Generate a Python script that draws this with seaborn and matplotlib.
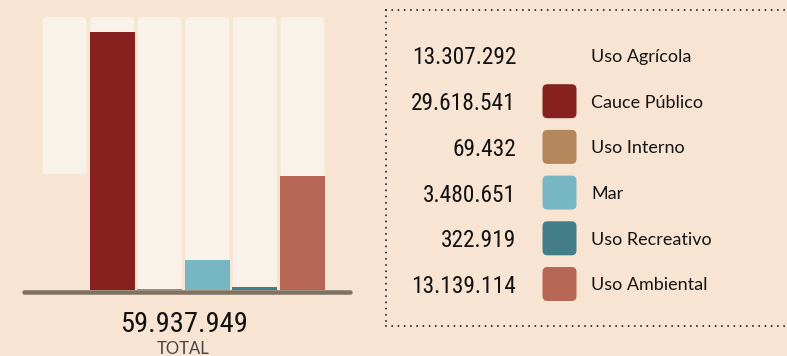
import matplotlib
matplotlib.use("Agg")
import matplotlib.pyplot as plt
from matplotlib.patches import FancyBboxPatch
from matplotlib.lines import Line2D
import seaborn as sns
import pandas as pd

# Water destination volumes
categories = ["Uso Agrícola", "Cauce Público", "Uso Interno", "Mar", "Uso Recreativo", "Uso Ambiental"]
values = [13307292, 29618541, 69432, 3480651, 322919, 13139114]
value_labels = ["13.307.292", "29.618.541", "69.432", "3.480.651", "322.919", "13.139.114"]
colors = ["#F8E4D3", "#86211F", "#B3865C", "#76B7C3", "#437D88", "#B86656"]
total_label = "59.937.949"
total_caption = "TOTAL"

BG = "#F8E4D3"
TRACK = "#F8F2E8"
BASE = "#7F7262"
W, H = 787, 356

sns.set_theme(style="white")
plt.rcParams["font.family"] = ["Lato", "DejaVu Sans"]
NUM_FONT = ["Roboto Condensed", "Roboto", "DejaVu Sans"]

fig = plt.figure(figsize=(W / 100, H / 100), dpi=100, facecolor=BG)


def fx(px):
    return px / W


def fy(py):
    return 1 - py / H


# Bar panel: axes spans the baseline, 0 sits at y=290 px
ax_l, ax_r, ax_t, ax_b = 22, 352, 17, 296
ax = fig.add_axes([fx(ax_l), fy(ax_b), fx(ax_r) - fx(ax_l), (ax_b - ax_t) / H])
ax.set_facecolor(BG)
ax.patch.set_alpha(0)

vmax = max(values)
bar_px = 258.0                     # pixel height of the tallest bar
k = bar_px / vmax                  # px per unit
track_top = (290 - ax_t) / k
y_bottom = -(ax_b - 290) / k

unit = (302.5 - 64.5) / 5          # px per category step
x_left = -(64.5 - ax_l) / unit
x_right = 5 + (ax_r - 302.5) / unit

df = pd.DataFrame({"cat": categories, "val": values,
                   "track": [track_top] * len(categories)})

# background tracks
sns.barplot(data=df, x="cat", y="track", color=TRACK, width=44 / unit,
            saturation=1, ax=ax, zorder=1)
n_track = len(ax.patches)
radius = 4 / unit
aspect = unit / k
for p in list(ax.patches[:n_track]):
    x0, y0 = p.get_x(), p.get_y()
    w, h = p.get_width(), p.get_height()
    p.remove()
    ax.add_patch(FancyBboxPatch((x0, y0), w, h,
                                boxstyle=f"round,pad=0,rounding_size={radius}",
                                mutation_aspect=aspect, fc=TRACK, ec="none",
                                lw=0, zorder=1))

# value bars
sns.barplot(data=df, x="cat", y="val", hue="cat", palette=colors,
            width=45 / unit, saturation=1, legend=False, ax=ax, zorder=2)
for p in ax.patches:
    if isinstance(p, FancyBboxPatch):
        continue
    p.set_edgecolor("none")
    p.set_linewidth(0)
    p.set_zorder(2)

ax.set_xlim(x_left, x_right)
ax.set_ylim(y_bottom, track_top)
ax.axis("off")

# baseline
cap = 2.25 / unit
ax.add_line(Line2D([x_left + cap, x_right - cap], [-2.4 / k, -2.4 / k],
                   color=BASE, lw=4.5 * 0.72, solid_capstyle="round",
                   zorder=3, clip_on=False))

# total
fig.text(fx(183.5), fy(321), total_label, ha="center", va="center_baseline",
         fontsize=20.5, family=NUM_FONT, fontweight="normal", color="#111111")
fig.text(fx(183.5), fy(347.5), total_caption, ha="center", va="center_baseline",
         fontsize=12, fontweight="normal", color="#444444")

# dotted frame around the legend
dot_lw = 2.0 * 0.72
dots = (0, (0.01, 6.2 * 0.72 / dot_lw))
for xs, ys in [([386, W + 5], [10, 10]), ([386, 386], [10, 326]),
               ([386, W + 5], [326, 326])]:
    fig.add_artist(Line2D([fx(x) for x in xs], [fy(y) for y in ys],
                          transform=fig.transFigure, color="#2a2a2a",
                          lw=dot_lw, linestyle=dots, dash_capstyle="round"))

# legend rows
row_y0, row_step = 55.5, 45.7
sw = 34
for i, (lab, vl, col) in enumerate(zip(categories, value_labels, colors)):
    cy = row_y0 + i * row_step
    fig.text(fx(516), fy(cy), vl, ha="right", va="center_baseline",
             fontsize=16.8, family=NUM_FONT, fontweight="normal", color="#111111")
    fig.add_artist(FancyBboxPatch((fx(542.5), fy(cy + sw / 2)), fx(sw), sw / H,
                                  boxstyle=f"round,pad=0,rounding_size={fx(5)}",
                                  mutation_aspect=W / H,
                                  transform=fig.transFigure, fc=col, ec="none"))
    fig.text(fx(591), fy(cy), lab, ha="left", va="center_baseline",
             fontsize=13, color="#141414")

fig.savefig("out.png", dpi=100, facecolor=BG)
